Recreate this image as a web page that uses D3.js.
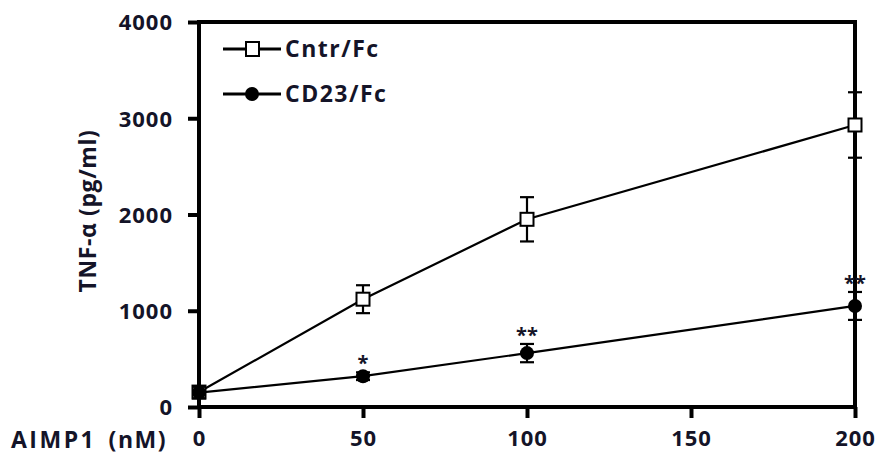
<!DOCTYPE html>
<html>
<head>
<meta charset="utf-8">
<script src="https://cdn.jsdelivr.net/npm/d3@7"></script>
<style>
  body { margin: 0; background: #fff; }
  text { font-family: "Open Sans", sans-serif; font-weight: 700; fill: #141428; }
</style>
</head>
<body>
<div id="chart"></div>
<script>
// doses of AIMP1 (nM)
var doses = [0, 50, 100, 200];
// TNF-alpha (pg/ml)
var cntrMean = [155, 1120, 1950, 2930];
var cntrErr = [55, 145, 230, 340];
var cd23Mean = [150, 320, 560, 1050];
var cd23Err = [60, 40, 95, 145];
var sigMarks = ["", "*", "**", "**"];
var xTicks = [0, 50, 100, 150, 200];
var yTicks = [0, 1000, 2000, 3000, 4000];
var seriesNames = ["Cntr/Fc", "CD23/Fc"];

var width = 879, height = 460;
var mLeft = 199, mRight = 855, mTop = 22, mBottom = 407;

var svg = d3.select("#chart").append("svg")
    .attr("width", width)
    .attr("height", height);

var x = d3.scaleLinear().domain([0, 200]).range([mLeft, mRight]);
var y = d3.scaleLinear().domain([0, 4000]).range([mBottom, mTop]);

// axes
var yAxis = svg.append("g")
    .attr("transform", "translate(" + mLeft + ",0)")
    .call(d3.axisLeft(y).tickValues(yTicks).tickSize(11).tickPadding(15).tickFormat(d3.format("d")));
var xAxis = svg.append("g")
    .attr("transform", "translate(0," + mBottom + ")")
    .call(d3.axisBottom(x).tickValues(xTicks).tickSize(11).tickPadding(12).tickFormat(d3.format("d")));

[yAxis, xAxis].forEach(function (g) {
    g.select(".domain").remove();
    g.selectAll(".tick line").attr("stroke", "#000").attr("stroke-width", 4);
    g.selectAll(".tick text").style("font-size", "22px").style("letter-spacing", "1px").attr("fill", "#141428");
});
yAxis.selectAll(".tick text").attr("dy", "0.36em");

// frame
var frame = svg.append("g").attr("stroke", "#000").attr("stroke-width", 4).attr("fill", "none");
frame.append("line").attr("x1", mLeft).attr("x2", mLeft).attr("y1", mTop - 2).attr("y2", mBottom + 2);
frame.append("line").attr("x1", mLeft - 2).attr("x2", mRight + 2).attr("y1", mBottom).attr("y2", mBottom);
frame.append("line").attr("x1", mLeft - 2).attr("x2", mRight + 2).attr("y1", mTop).attr("y2", mTop);
frame.append("line").attr("x1", mRight).attr("x2", mRight).attr("y1", mTop - 2).attr("y2", mBottom + 2);

var line = d3.line().x(function (d) { return x(d[0]); }).y(function (d) { return y(d[1]); });

function drawSeries(means, errs, filled) {
    var pts = doses.map(function (d, i) { return [d, means[i], errs[i]]; });
    var g = svg.append("g");
    g.append("path")
        .attr("d", line(pts))
        .attr("fill", "none")
        .attr("stroke", "#000")
        .attr("stroke-width", 2.2);
    var eb = g.selectAll(".eb").data(pts).enter().append("g")
        .attr("stroke", "#000").attr("stroke-width", 2.2);
    eb.append("line")
        .attr("x1", function (d) { return x(d[0]); })
        .attr("x2", function (d) { return x(d[0]); })
        .attr("y1", function (d) { return y(d[1] - d[2]); })
        .attr("y2", function (d) { return y(d[1] + d[2]); });
    eb.append("line")
        .attr("x1", function (d) { return x(d[0]) - 7; })
        .attr("x2", function (d) { return x(d[0]) + 7; })
        .attr("y1", function (d) { return y(d[1] - d[2]); })
        .attr("y2", function (d) { return y(d[1] - d[2]); });
    eb.append("line")
        .attr("x1", function (d) { return x(d[0]) - 7; })
        .attr("x2", function (d) { return x(d[0]) + 7; })
        .attr("y1", function (d) { return y(d[1] + d[2]); })
        .attr("y2", function (d) { return y(d[1] + d[2]); });
    if (filled) {
        g.selectAll(".m").data(pts).enter().append("circle")
            .attr("cx", function (d) { return x(d[0]); })
            .attr("cy", function (d) { return y(d[1]); })
            .attr("r", 7)
            .attr("fill", "#000");
    } else {
        g.selectAll(".m").data(pts).enter().append("rect")
            .attr("x", function (d) { return x(d[0]) - 6.5; })
            .attr("y", function (d) { return y(d[1]) - 6.5; })
            .attr("width", 13).attr("height", 13)
            .attr("fill", "#fff").attr("stroke", "#000").attr("stroke-width", 2);
    }
    return pts;
}

drawSeries(cntrMean, cntrErr, false);
var cdPts = drawSeries(cd23Mean, cd23Err, true);

// significance stars
svg.selectAll(".sig").data(cdPts).enter().append("text")
    .attr("x", function (d) { return x(d[0]); })
    .attr("y", function (d, i) { return y(d[1] + d[2]) - 2; })
    .attr("text-anchor", "middle")
    .style("font-size", "20px")
    .attr("fill", "#3a3a80")
    .text(function (d, i) { return sigMarks[i]; });

// legend
var leg = svg.append("g");
[49, 94].forEach(function (ly, i) {
    leg.append("line").attr("x1", 223).attr("x2", 281).attr("y1", ly).attr("y2", ly)
        .attr("stroke", "#000").attr("stroke-width", 3);
    if (i == 0) {
        leg.append("rect").attr("x", 246).attr("y", ly - 7).attr("width", 13).attr("height", 14)
            .attr("fill", "#fff").attr("stroke", "#000").attr("stroke-width", 2);
    } else {
        leg.append("circle").attr("cx", 252).attr("cy", ly).attr("r", 7).attr("fill", "#000");
    }
    leg.append("text").attr("x", 285).attr("y", ly).attr("dy", "0.36em")
        .style("font-size", "23px").style("letter-spacing", "1.5px").text(seriesNames[i]);
});

// axis titles
svg.append("text")
    .attr("transform", "translate(96,211) rotate(-90)")
    .attr("text-anchor", "middle")
    .style("font-size", "23px")
    .style("letter-spacing", "0.6px")
    .text("TNF-α (pg/ml)");
svg.append("text")
    .attr("x", 11).attr("y", 440).attr("dy", "0.36em")
    .style("font-size", "23px")
    .style("letter-spacing", "2.5px")
    .text("AIMP1");
svg.append("text")
    .attr("x", 167).attr("y", 440).attr("dy", "0.36em")
    .attr("text-anchor", "end")
    .style("font-size", "23px")
    .style("letter-spacing", "1.5px")
    .text("(nM)");
</script>
</body>
</html>
